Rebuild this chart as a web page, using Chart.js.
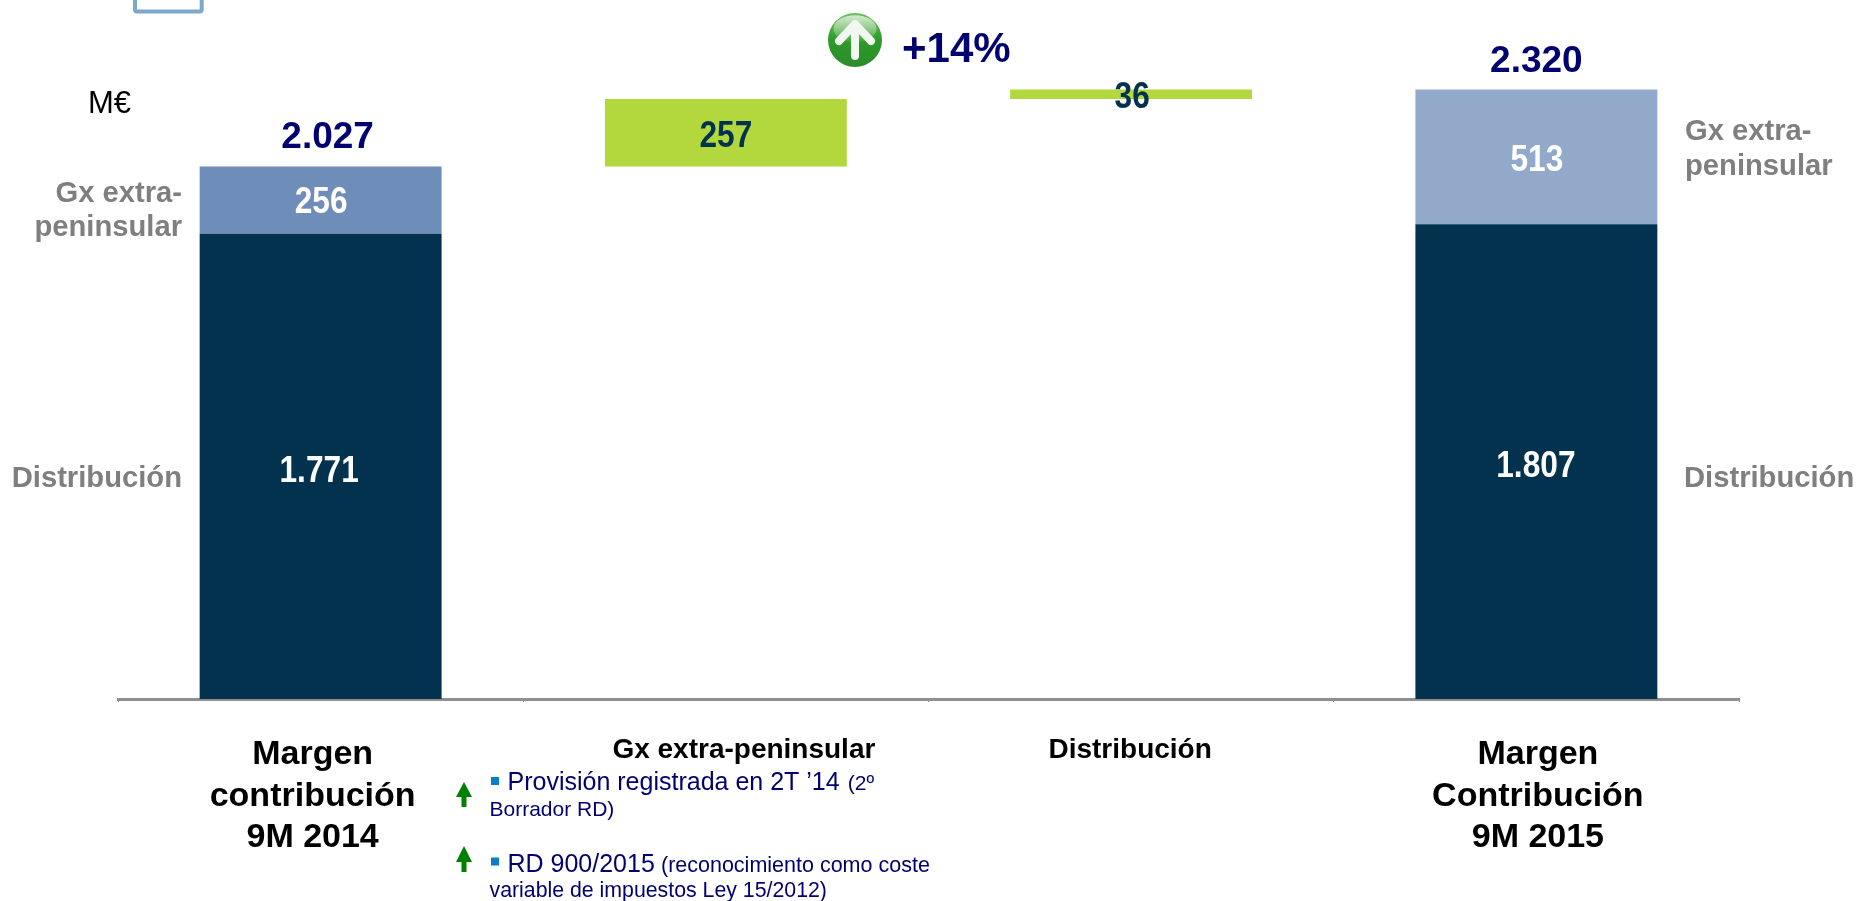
<!DOCTYPE html>
<html lang="es">
<head>
<meta charset="utf-8">
<title>Margen de contribución 9M</title>
<script src="https://cdn.jsdelivr.net/npm/chart.js@4/dist/chart.umd.min.js"></script>
<style>
html,body{margin:0;padding:0;background:#fff;overflow:hidden}
#wrap{position:relative;width:1857px;height:901px}
</style>
</head>
<body>
<div id="wrap"><canvas id="margen" width="1857" height="901"></canvas></div>
<script>
// datos
const categories=[['Margen','contribución','9M 2014'],['Gx extra-peninsular'],['Distribución'],['Margen','Contribución','9M 2015']];
const distribucion=[1771,null,null,1807];
const gxExtra=[256,null,null,513];
const baseOculta=[null,2027,2284,null];
const variacion=[null,257,36,null];
const totales=[2027,null,null,2320];
const gxColores=['#6E8DB8',null,null,'#93A9C9'];
const segmentoIzq=['Gx extra-','peninsular'];
const segmentoDcha=['Gx extra-','peninsular'];
const segmentoDist='Distribución';
const unidad='M€';
const crecimiento='+14%';
const notaUno=['Provisión registrada en 2T ’14',' (2º','Borrador RD)'];
const notaDos=['RD 900/2015',' (reconocimiento como coste','variable de impuestos Ley 15/2012)'];

const AZUL='#03324F', VERDE='#B2D83E', NAVY='#000070', GRIS='#7F7F7F', FLECHA='#008000';
const FF='"Liberation Sans", Arial, sans-serif';
const fmt=v=>String(v).replace(/\B(?=(\d{3})+$)/g,'.');

function txt(ctx,s,x,y,font,color,align,sx){
  ctx.save();
  ctx.font=font;ctx.fillStyle=color;ctx.textAlign=align||'left';ctx.textBaseline='alphabetic';
  ctx.translate(x,y);
  if(sx)ctx.scale(sx,1);
  ctx.fillText(s,0,0);
  ctx.restore();
}

function flecha(ctx,x,tip,base,end){
  ctx.fillStyle=FLECHA;
  ctx.beginPath();
  ctx.moveTo(x,tip);ctx.lineTo(x+8,base);ctx.lineTo(x+2.5,base);ctx.lineTo(x+2.5,end);
  ctx.lineTo(x-2.5,end);ctx.lineTo(x-2.5,base);ctx.lineTo(x-8,base);
  ctx.closePath();ctx.fill();
}

function icono(ctx,cx,cy,r){
  ctx.save();
  let g=ctx.createLinearGradient(0,cy-r,0,cy+r);
  g.addColorStop(0,'#6FBF5E');g.addColorStop(.5,'#2E9A2A');g.addColorStop(1,'#2A8C2A');
  ctx.fillStyle=g;
  ctx.beginPath();ctx.arc(cx,cy,r,0,Math.PI*2);ctx.fill();
  // brillo
  g=ctx.createLinearGradient(0,cy-r,0,cy);
  g.addColorStop(0,'rgba(255,255,255,.75)');g.addColorStop(1,'rgba(255,255,255,.12)');
  ctx.fillStyle=g;
  ctx.beginPath();ctx.ellipse(cx,cy-r*.42,r*.8,r*.5,0,0,Math.PI*2);ctx.fill();
  // flecha
  ctx.strokeStyle='#F2F8F0';ctx.lineWidth=8;ctx.lineCap='round';ctx.lineJoin='round';
  ctx.beginPath();
  ctx.moveTo(cx,cy+16);ctx.lineTo(cx,cy-16);
  ctx.moveTo(cx-16,cy+1);ctx.lineTo(cx,cy-16);ctx.lineTo(cx+16,cy+1);
  ctx.stroke();
  ctx.restore();
}

// etiquetas y textos sueltos
const rotulos={
  id:'rotulos',
  afterDatasetsDraw(chart){
    const ctx=chart.ctx, x=chart.scales.x;
    const BIG='bold 36px '+FF, TOT='bold 37px '+FF, SEG='bold 29.2px '+FF;

    // valores dentro de las barras
    const dist=chart.getDatasetMeta(0).data, gx=chart.getDatasetMeta(1).data, va=chart.getDatasetMeta(3).data;
    const mid=b=>(b.y+b.base)/2;
    txt(ctx,fmt(distribucion[0]),dist[0].x-1.5,mid(dist[0])+16,BIG,'#fff','center',.88);
    txt(ctx,fmt(distribucion[3]),dist[3].x-.5,mid(dist[3])+15,BIG,'#fff','center',.88);
    txt(ctx,fmt(gxExtra[0]),gx[0].x+.5,gx[0].y+46,BIG,'#fff','center',.88);
    txt(ctx,fmt(gxExtra[3]),gx[3].x+.5,gx[3].y+81,BIG,'#fff','center',.88);
    txt(ctx,fmt(variacion[1]),va[1].x,mid(va[1])+14,BIG,AZUL,'center',.88);
    txt(ctx,fmt(variacion[2]),va[2].x+1,mid(va[2])+14,BIG,AZUL,'center',.88);

    // totales
    txt(ctx,fmt(totales[0]),gx[0].x+7,gx[0].y-19,TOT,NAVY,'center');
    txt(ctx,fmt(totales[3]),gx[3].x,gx[3].y-17.5,TOT,NAVY,'center');

    // categorias
    const desp=[-8,18,-1,1.5];
    categories.forEach((lin,i)=>{
      const cx=x.getPixelForValue(i)+desp[i];
      if(lin.length>1) lin.forEach((l,k)=>txt(ctx,l,cx,764+k*41.5,'bold 34px '+FF,'#000','center'));
      else txt(ctx,lin[0],cx,758,'bold 28px '+FF,'#000','center');
    });

    // segmentos
    segmentoIzq.forEach((l,k)=>txt(ctx,l,182,201.5+k*34.7,SEG,GRIS,'right'));
    txt(ctx,segmentoDist,182,487,SEG,GRIS,'right');
    segmentoDcha.forEach((l,k)=>txt(ctx,l,1685,140+k*35,SEG,GRIS,'left'));
    txt(ctx,segmentoDist,1684,487,SEG,GRIS,'left');

    txt(ctx,unidad,88,112.5,'31px '+FF,'#000','left');

    // +14%
    icono(ctx,855,40,27);
    txt(ctx,crecimiento,902,62,'bold 42px '+FF,NAVY,'left');

    // recuadro cortado arriba
    ctx.strokeStyle='#7FA6CC';ctx.lineWidth=4;
    ctx.beginPath();ctx.roundRect(135,-20,66.7,31.5,2);ctx.stroke();

    // notas
    ctx.fillStyle='#0A7CC9';
    ctx.fillRect(491,777,8,8);ctx.fillRect(491,857.5,8,8);
    txt(ctx,notaUno[0],507.5,790,'25px '+FF,NAVY);
    txt(ctx,notaUno[1],842,790,'21px '+FF,NAVY);
    txt(ctx,notaUno[2],489.5,816,'21px '+FF,NAVY);
    txt(ctx,notaDos[0],507.5,871.5,'25px '+FF,NAVY);
    txt(ctx,notaDos[1],655,871.5,'21.5px '+FF,NAVY);
    txt(ctx,notaDos[2],489.5,897,'21.3px '+FF,NAVY);
    flecha(ctx,464,782,797,807);
    flecha(ctx,464,846,862,872);
  }
};

new Chart(document.getElementById('margen').getContext('2d'),{
  type:'bar',
  plugins:[rotulos],
  data:{
    labels:categories,
    datasets:[
      {label:'Distribución',data:distribucion,backgroundColor:AZUL},
      {label:'Gx extra-peninsular',data:gxExtra,backgroundColor:gxColores},
      {label:'base',data:baseOculta,backgroundColor:'transparent'},
      {label:'Variación',data:variacion,backgroundColor:VERDE}
    ]
  },
  options:{
    responsive:false,
    animation:false,
    barPercentage:.597,
    categoryPercentage:1,
    layout:{padding:{left:118,right:118,top:16,bottom:199}},
    plugins:{legend:{display:false},tooltip:{enabled:false}},
    scales:{
      x:{
        stacked:true,
        ticks:{display:false},
        grid:{drawOnChartArea:false,drawTicks:true,tickLength:3,color:'#8C8C8C',lineWidth:1},
        border:{display:true,color:'#8F8F8F',width:3}
      },
      y:{stacked:true,display:false,min:0,max:2600}
    }
  }
});
</script>
</body>
</html>
